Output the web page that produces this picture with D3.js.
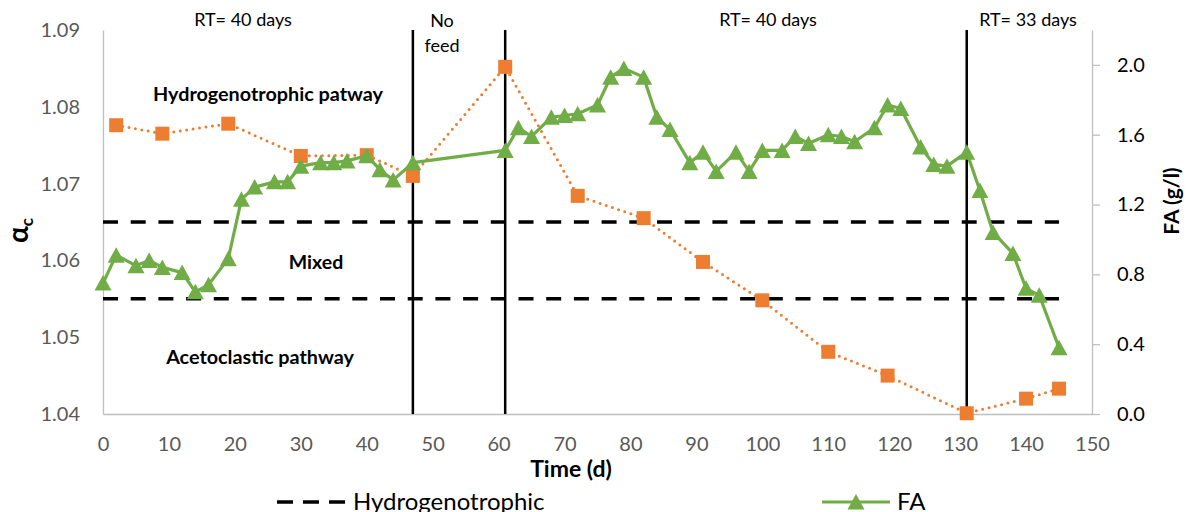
<!DOCTYPE html>
<html>
<head>
<meta charset="utf-8">
<script src="https://cdn.jsdelivr.net/npm/d3@7"></script>
<style>
  body { margin: 0; background: #fff; }
  text { font-family: Lato, "Open Sans", sans-serif; }
</style>
</head>
<body>
<div class="chart"></div>
<script>
// alpha_c (left axis) measurements
var alphaDays = [2, 9, 19, 30, 40, 47, 61, 72, 82, 91, 100, 110, 119, 131, 140, 145];
var alphaVals = [1.0776, 1.0765, 1.0778, 1.0736, 1.0737, 1.0710, 1.0852, 1.0684, 1.0655,
  1.0598, 1.0548, 1.0481, 1.0450, 1.0401, 1.0420, 1.0433];

// FA in g/l (right axis)
var faDays = [0, 2, 5, 7, 9, 12, 14, 16, 19, 21, 23, 26, 28, 30, 33, 35, 37, 40, 42, 44, 47,
  61, 63, 65, 68, 70, 72, 75, 77, 79, 82, 84, 86, 89, 91, 93, 96, 98, 100, 103, 105, 107,
  110, 112, 114, 117, 119, 121, 124, 126, 128, 131, 133, 135, 138, 140, 142, 145];
var faVals = [0.75, 0.91, 0.85, 0.88, 0.84, 0.81, 0.70, 0.74, 0.89, 1.23, 1.30, 1.33, 1.33,
  1.42, 1.44, 1.44, 1.45, 1.48, 1.40, 1.34, 1.44, 1.51, 1.64, 1.59, 1.70, 1.71, 1.72, 1.77,
  1.93, 1.98, 1.93, 1.70, 1.63, 1.44, 1.50, 1.39, 1.50, 1.39, 1.51, 1.51, 1.59, 1.55, 1.60,
  1.59, 1.56, 1.64, 1.77, 1.75, 1.53, 1.43, 1.42, 1.50, 1.28, 1.04, 0.92, 0.72, 0.68, 0.38];

// threshold lines
var limitDays = [0, 145];
var hydroLimit = [1.065, 1.065];
var acetoLimit = [1.055, 1.055];

// operation period boundaries
var periodDays = [47, 61, 131];

var xTicks = d3.range(0, 151, 10);
var leftTicks = [1.04, 1.05, 1.06, 1.07, 1.08, 1.09];
var rightTicks = [0, 0.4, 0.8, 1.2, 1.6, 2.0];

var svgWidth = 1192;
var svgHeight = 512;

var svg = d3.select(".chart")
  .append("svg")
  .attr("width", svgWidth)
  .attr("height", svgHeight);

var x = d3.scaleLinear().domain([0, 150]).range([103, 1092]);
var yL = d3.scaleLinear().domain([1.04, 1.09]).range([414, 30]);
var yR = d3.scaleLinear().domain([0, 2.2]).range([414, 30]);

var orange = "#ED7D31";
var green = "#70AD47";
var axisGrey = "#BFBFBF";

// axes
var bottomAxis = d3.axisBottom(x).tickValues(xTicks).tickSize(0).tickPadding(23);
var gx = svg.append("g").attr("transform", "translate(0,414)").call(bottomAxis);
gx.select(".domain").attr("stroke", axisGrey).attr("stroke-width", 1.3);
gx.selectAll("text").attr("fill", "#595959").style("font-size", "20px");

var leftAxis = d3.axisLeft(yL).tickValues(leftTicks).tickFormat(d3.format(".2f")).tickSize(0).tickPadding(23);
var gl = svg.append("g").attr("transform", "translate(103,0)").call(leftAxis);
gl.select(".domain").attr("stroke", axisGrey).attr("stroke-width", 1.3);
gl.selectAll("text").attr("fill", "#595959").style("font-size", "20px");

var rightAxis = d3.axisRight(yR).tickValues(rightTicks).tickFormat(d3.format(".1f")).tickSize(8).tickSizeOuter(0).tickPadding(17);
var gr = svg.append("g").attr("transform", "translate(1092,0)").call(rightAxis);
gr.select(".domain").attr("stroke", axisGrey).attr("stroke-width", 1.3);
gr.selectAll("line").attr("stroke", axisGrey).attr("stroke-width", 1.3);
gr.selectAll("text").attr("fill", "#000").style("font-size", "20px");

// dashed limits
var limitLine = d3.line().x(function(d, i) { return x(limitDays[i]); }).y(function(d) { return yL(d); });
[hydroLimit, acetoLimit].forEach(function(arr) {
  svg.append("path")
    .attr("d", limitLine(arr))
    .attr("fill", "none")
    .attr("stroke", "#000")
    .attr("stroke-width", 3.5)
    .attr("stroke-dasharray", "15,12.7");
});

// period separators
svg.selectAll(".period")
  .data(periodDays)
  .enter()
  .append("line")
  .attr("x1", function(d) { return x(d); })
  .attr("x2", function(d) { return x(d); })
  .attr("y1", yL(1.09))
  .attr("y2", yL(1.04))
  .attr("stroke", "#000")
  .attr("stroke-width", 2.5);

// alpha_c dotted series
var alphaLine = d3.line().x(function(d, i) { return x(alphaDays[i]); }).y(function(d) { return yL(d); });
svg.append("path")
  .attr("d", alphaLine(alphaVals))
  .attr("fill", "none")
  .attr("stroke", orange)
  .attr("stroke-width", 3)
  .attr("stroke-linecap", "round")
  .attr("stroke-dasharray", "0,6.5");

svg.selectAll(".sq")
  .data(alphaVals)
  .enter()
  .append("rect")
  .attr("x", function(d, i) { return x(alphaDays[i]) - 7; })
  .attr("y", function(d) { return yL(d) - 7; })
  .attr("width", 14)
  .attr("height", 14)
  .attr("fill", orange);

// FA series
var faLine = d3.line()
  .x(function(d, i) { return x(faDays[i]); })
  .y(function(d) { return yR(d); });
svg.append("path")
  .attr("d", faLine(faVals))
  .attr("fill", "none")
  .attr("stroke", green)
  .attr("stroke-width", 3.2)
  .attr("stroke-linejoin", "round");

var tri = "M0,-8L8.5,7.5L-8.5,7.5Z";
svg.selectAll(".tri")
  .data(faVals)
  .enter()
  .append("path")
  .attr("d", tri)
  .attr("transform", function(d, i) { return "translate(" + x(faDays[i]) + "," + yR(d) + ")"; })
  .attr("fill", green);

// annotations
function label(txt, cx, cy, size, bold) {
  svg.append("text")
    .attr("x", cx)
    .attr("y", cy)
    .attr("text-anchor", "middle")
    .style("font-size", size + "px")
    .style("font-weight", bold ? "bold" : "normal")
    .attr("fill", "#000")
    .text(txt);
}
label("RT= 40 days", 243, 26, 18, false);
label("No", 442, 27, 18, false);
label("feed", 442, 52, 18, false);
label("RT= 40 days", 768, 26, 18, false);
label("RT= 33 days", 1028, 26, 18, false);
label("Hydrogenotrophic patway", 268, 101, 19.8, true);
label("Mixed", 316, 269, 19.5, true);
label("Acetoclastic pathway", 260, 364, 19.8, true);
label("Time (d)", 571, 477, 23, true);

// axis titles
var aTitle = svg.append("text")
  .attr("transform", "translate(28,243) rotate(-90)")
  .attr("fill", "#000")
  .style("font-weight", "bold");
aTitle.append("tspan").style("font-size", "28px").text("α");
aTitle.append("tspan").style("font-size", "17px").attr("dy", 5).text("c");

svg.append("text")
  .attr("transform", "translate(1179,201) rotate(-90)")
  .attr("text-anchor", "middle")
  .style("font-size", "21px")
  .style("font-weight", "bold")
  .attr("fill", "#000")
  .text("FA (g/l)");

// legend (first row, rest is below the frame)
svg.append("line")
  .attr("x1", 277).attr("x2", 347).attr("y1", 502).attr("y2", 502)
  .attr("stroke", "#000").attr("stroke-width", 3.5)
  .attr("stroke-dasharray", "16,10");
svg.append("text").attr("x", 353).attr("y", 510).style("font-size", "24px").text("Hydrogenotrophic");

svg.append("line")
  .attr("x1", 822).attr("x2", 890).attr("y1", 502).attr("y2", 502)
  .attr("stroke", green).attr("stroke-width", 3.2);
svg.append("path").attr("d", tri).attr("transform", "translate(856,502)").attr("fill", green);
svg.append("text").attr("x", 897).attr("y", 510).style("font-size", "24px").text("FA");
</script>
</body>
</html>
